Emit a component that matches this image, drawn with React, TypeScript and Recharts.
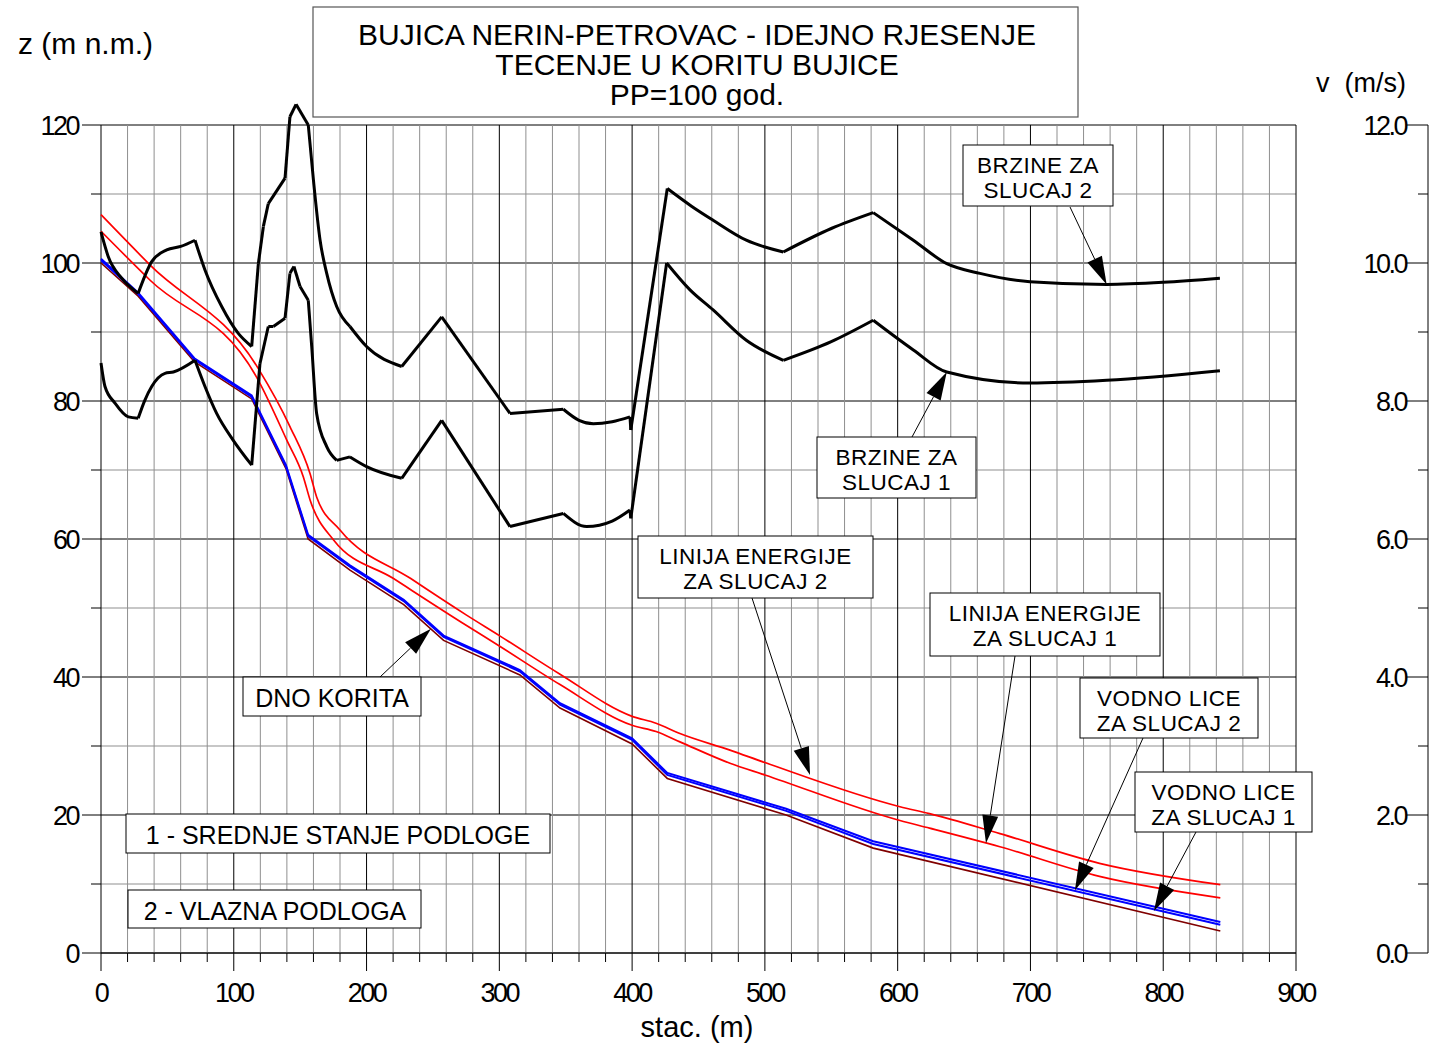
import React from "react";
import { Line, LineChart, ReferenceDot, ReferenceLine, XAxis, YAxis } from "recharts";

type Pt = [number, number];

// stacionaza (m) -> kota (m n.m.)
const dnoKorita: Pt[] = [
  [0, 100.0], [28, 95.2], [70.3, 85.7], [113.5, 80.3], [139.3, 70.2], [156, 60.0], [187.5, 55.5],
  [228, 50.5], [258, 45.3], [315.5, 40.3], [345.7, 35.5], [400, 30.3], [426.5, 25.3], [516, 20.0],
  [581.6, 15.2], [843, 3.2],
];

const vodnoLice1: Pt[] = [
  [0, 100.4], [28, 95.5], [70.3, 86.0], [113.5, 80.6], [139.3, 70.5], [156, 60.4], [187.5, 56.0],
  [228, 51.0], [258, 45.8], [315.5, 40.8], [345.7, 36.0], [400, 30.9], [426.5, 25.8], [516, 20.6],
  [581.6, 15.8], [843, 4.1],
];

const vodnoLice2: Pt[] = [
  [0, 100.6], [28, 95.7], [70.3, 86.2], [113.5, 80.8], [139.3, 70.7], [156, 60.6], [187.5, 56.2],
  [228, 51.2], [258, 46.0], [315.5, 41.0], [345.7, 36.2], [400, 31.1], [426.5, 26.1], [516, 20.9],
  [581.6, 16.2], [843, 4.5],
];

const energija1: Pt[] = [
  [0, 104.6], [37, 97.5], [118.5, 83.0], [140, 74.3], [152.4, 69.0], [157.4, 65.7], [175, 59.9],
  [220, 54.3], [275, 47.5], [300, 44.5], [345.7, 38.9], [400, 33.0], [418, 32.1], [436, 30.6],
  [473.7, 27.5], [500, 25.8], [601.7, 19.2], [624, 18.1], [677, 15.4], [752, 11.1], [843, 8.0],
];

const energija2: Pt[] = [
  [0, 107.0], [37, 99.7], [118.5, 84.7], [142.3, 76.3], [157.4, 69.5], [162.4, 66.1], [180, 61.3],
  [233, 54.3], [275, 49.0], [300, 46.0], [345.7, 40.4], [400, 34.3], [418, 33.3], [436, 31.8],
  [473.7, 29.4], [500, 27.6], [601.7, 21.2], [624, 20.2], [677, 17.3], [752, 13.0], [843, 9.9],
];

// stacionaza (m) -> brzina (m/s)
const brzine1: Pt[] = [
  [0, 8.55], [3, 8.21], [10.5, 7.97], [20.6, 7.77], [28, 7.75], [33, 8.01], [38.2, 8.21], [48.2, 8.4],
  [54.5, 8.42], [70.8, 8.59], [78.3, 8.21], [87.1, 7.82], [99.6, 7.43], [113.5, 7.07], [119.7, 8.54],
  [126, 9.08], [129.8, 9.08], [138.6, 9.2], [142.3, 9.85], [145.3, 9.95], [149.9, 9.66], [156.1, 9.46],
  [158.7, 8.79], [162.4, 7.82], [170, 7.34], [177.5, 7.14], [187.5, 7.19], [200, 7.05], [226.5, 6.88],
  [256.6, 7.72], [308, 6.18], [348.2, 6.37], [365.8, 6.18], [385, 6.26], [398.4, 6.42], [399, 6.3],
  [426, 10.0], [443.6, 9.61], [461, 9.32], [486, 8.88], [513.9, 8.59], [550, 8.86], [581.6, 9.17],
  [611.8, 8.74], [637, 8.42], [699.6, 8.26], [757.4, 8.3], [842.7, 8.44],
];
const brzine1Lomovi = [28, 70.8, 113.5, 119.7, 126, 129.8, 138.6, 142.3, 145.3, 149.9, 156.1, 177.5, 187.5, 226.5, 256.6, 308, 348.2, 398.4, 399, 426, 513.9, 581.6];

const brzine2: Pt[] = [
  [0, 10.45], [5.5, 10.09], [15.6, 9.78], [28, 9.56], [38.2, 10.02], [49.5, 10.19], [60, 10.24],
  [70.8, 10.33], [78.3, 9.9], [90.9, 9.37], [103.4, 8.98], [113.5, 8.79], [118.5, 9.99], [122.3, 10.53],
  [126, 10.86], [138.6, 11.23], [142.3, 12.12], [146.9, 12.3], [156.1, 12.0], [160, 11.2], [165, 10.33],
  [170, 9.85], [177.5, 9.37], [187.5, 9.08], [200, 8.79], [226.5, 8.5], [256.6, 9.22], [308, 7.82],
  [348.2, 7.88], [360, 7.72], [370.8, 7.67], [385, 7.7], [398.4, 7.77], [399, 7.58], [426.5, 11.08],
  [445, 10.82], [461, 10.62], [486, 10.33], [513.9, 10.16], [550, 10.5], [581.6, 10.73], [611.8, 10.33],
  [637, 9.99], [662, 9.85], [699.6, 9.73], [757.4, 9.69], [800, 9.72], [842.7, 9.78],
];
const brzine2Lomovi = [28, 70.8, 113.5, 118.5, 122.3, 126, 138.6, 142.3, 146.9, 156.1, 187.5, 226.5, 256.6, 308, 348.2, 398.4, 399, 426.5, 513.9, 581.6];

const xTicks = Array.from({ length: 46 }, (_, i) => i * 20);
const zTicks = Array.from({ length: 13 }, (_, i) => i * 10);
const vTicks = Array.from({ length: 13 }, (_, i) => i);
const Z_TOP = 120;
const Z_MAX = 124; // velocity peak rises above the frame
const PX_PER_Z = 6.9;

const titleLines = ["BUJICA NERIN-PETROVAC - IDEJNO RJESENJE", "TECENJE U KORITU BUJICE", "PP=100 god."];

type Note = { lines: string[]; m: number; y: number; axis: "z" | "v"; box: number[]; tail: number[] };

const notes: Note[] = [
  { lines: ["BRZINE ZA", "SLUCAJ 2"], m: 757.4, y: 9.69, axis: "v", box: [963, 145, 150, 61], tail: [1070, 207] },
  { lines: ["BRZINE ZA", "SLUCAJ 1"], m: 637, y: 8.42, axis: "v", box: [817, 437, 159, 61], tail: [912, 437] },
  { lines: ["LINIJA ENERGIJE", "ZA SLUCAJ 2"], m: 534, y: 25.8, axis: "z", box: [638, 536, 235, 62], tail: [752, 598] },
  { lines: ["LINIJA ENERGIJE", "ZA SLUCAJ 1"], m: 666.5, y: 15.9, axis: "z", box: [930, 593, 230, 63], tail: [1015, 656] },
  { lines: ["VODNO LICE", "ZA SLUCAJ 2"], m: 733.5, y: 9.1, axis: "z", box: [1080, 678, 178, 60], tail: [1143, 738] },
  { lines: ["VODNO LICE", "ZA SLUCAJ 1"], m: 793, y: 6.1, axis: "z", box: [1135, 772, 177, 60], tail: [1196, 832] },
  { lines: ["DNO KORITA"], m: 248.5, y: 47.0, axis: "z", box: [243, 677, 178, 39], tail: [380, 677] },
];

const FONT = "'Liberation Sans', Arial, Helvetica, sans-serif";
const toRows = (pts: Pt[], key: string) => pts.map(([m, v]) => ({ m, [key]: v }));

// break a curve at its sharp corners so each smooth piece can be drawn on its own
function splitAt(pts: Pt[], kinks: number[]) {
  const segs: Pt[][] = [];
  let cur: Pt[] = [];
  pts.forEach((p) => {
    cur.push(p);
    if (kinks.includes(p[0])) {
      if (cur.length > 1) segs.push(cur);
      cur = [p];
    }
  });
  if (cur.length > 1) segs.push(cur);
  return segs;
}

function XTick({ x, y, payload }: any) {
  const major = payload.value % 100 === 0;
  return (
    <g>
      <line x1={x} y1={y} x2={x} y2={y + (major ? 18 : 9)} stroke="#000" strokeWidth={1} />
      {major && (
        <text x={x} y={y + 49} textAnchor="middle" fontSize={27} fontFamily={FONT} letterSpacing={-2.5} fill="#000">
          {payload.value}
        </text>
      )}
    </g>
  );
}

function ZTick({ x, y, payload }: any) {
  const major = payload.value % 20 === 0;
  return (
    <g>
      <line x1={x - (major ? 19 : 10)} y1={y} x2={x} y2={y} stroke="#000" strokeWidth={1} />
      {major && (
        <text x={x - 23} y={y + 10} textAnchor="end" fontSize={27} fontFamily={FONT} letterSpacing={-2.5} fill="#000">
          {payload.value}
        </text>
      )}
    </g>
  );
}

function VTick({ x, y, payload }: any) {
  const major = payload.value % 2 === 0;
  const ax = x + 132;
  return (
    <g>
      <line x1={ax - (major ? 22 : 10)} y1={y} x2={ax} y2={y} stroke="#000" strokeWidth={1} />
      {major && (
        <text x={ax - 22} y={y + 10} textAnchor="end" fontSize={27} fontFamily={FONT} letterSpacing={-2.5} fill="#000">
          {payload.value.toFixed(1)}
        </text>
      )}
    </g>
  );
}

function Callout({ cx, cy, note }: any) {
  const [tx, ty] = note.tail;
  const [bx0, by0, bw, bh] = note.box;
  const dx = cx - tx;
  const dy = cy - ty;
  const len = Math.hypot(dx, dy) || 1;
  const ux = dx / len;
  const uy = dy / len;
  const hx = cx - ux * 28;
  const hy = cy - uy * 28;
  const nx = -uy * 8;
  const ny = ux * 8;
  const mid = bx0 + bw / 2;
  const twoLines = note.lines.length > 1;
  return (
    <g>
      <line x1={tx} y1={ty} x2={hx} y2={hy} stroke="#000" strokeWidth={1} />
      <polygon points={`${cx},${cy} ${hx + nx},${hy + ny} ${hx - nx},${hy - ny}`} fill="#000" />
      <rect x={bx0} y={by0} width={bw} height={bh} fill="#fff" stroke="#000" strokeWidth={1} />
      {note.lines.map((t: string, i: number) => (
        <text
          key={t}
          x={mid}
          y={by0 + (twoLines ? 27.5 + i * 25.5 : 30)}
          textAnchor="middle"
          fontSize={twoLines ? 22.5 : 25}
          letterSpacing={twoLines ? 0.5 : 0}
          fontFamily={FONT}
          fill="#000"
        >
          {t}
        </text>
      ))}
    </g>
  );
}

export default function App() {
  const plotBottom = 953;
  const top = plotBottom - Z_MAX * PX_PER_Z;
  const lineProps = { xAxisId: "x", dot: false, activeDot: false, isAnimationActive: false } as const;
  return (
    <div style={{ position: "absolute", left: 0, top: 0, width: 1432, height: 1048, background: "#fff" }}>
      <LineChart width={1432} height={1048} margin={{ top, right: 0, bottom: 0, left: 0 }}>
        <XAxis
          xAxisId="x"
          dataKey="m"
          type="number"
          domain={[0, 900]}
          ticks={xTicks}
          interval={0}
          height={1048 - plotBottom}
          tickSize={0}
          tickMargin={0}
          tick={<XTick />}
          axisLine={{ stroke: "#000" }}
        />
        <YAxis
          yAxisId="z"
          orientation="left"
          type="number"
          domain={[0, Z_MAX]}
          allowDataOverflow
          ticks={zTicks}
          interval={0}
          width={101}
          tickSize={0}
          tickMargin={0}
          tick={<ZTick />}
          axisLine={false}
        />
        <YAxis
          yAxisId="v"
          orientation="right"
          type="number"
          domain={[0, Z_MAX / 10]}
          allowDataOverflow
          ticks={vTicks}
          interval={0}
          width={136}
          tickSize={0}
          tickMargin={0}
          tick={<VTick />}
          axisLine={false}
        />
        {zTicks.map((v) => (
          <ReferenceLine
            key={`z${v}`}
            xAxisId="x"
            yAxisId="z"
            y={v}
            stroke={v % 20 === 0 ? "#000" : "#8f8f8f"}
            strokeWidth={1}
          />
        ))}
        {xTicks.map((v) => (
          <ReferenceLine
            key={`x${v}`}
            xAxisId="x"
            yAxisId="z"
            segment={[{ x: v, y: 0 }, { x: v, y: Z_TOP }]}
            stroke={v % 100 === 0 ? "#000" : "#8f8f8f"}
            strokeWidth={1}
          />
        ))}
        <Line {...lineProps} yAxisId="z" data={toRows(dnoKorita, "z")} dataKey="z" type="linear" stroke="#800000" strokeWidth={1.6} />
        <Line {...lineProps} yAxisId="z" data={toRows(vodnoLice1, "z")} dataKey="z" type="linear" stroke="#0000ff" strokeWidth={2} />
        <Line {...lineProps} yAxisId="z" data={toRows(vodnoLice2, "z")} dataKey="z" type="linear" stroke="#0000ff" strokeWidth={2} />
        <Line {...lineProps} yAxisId="z" data={toRows(energija1, "z")} dataKey="z" type="monotone" stroke="#ff0000" strokeWidth={1.7} />
        <Line {...lineProps} yAxisId="z" data={toRows(energija2, "z")} dataKey="z" type="monotone" stroke="#ff0000" strokeWidth={1.7} />
        {splitAt(brzine1, brzine1Lomovi).map((seg, i) => (
          <Line key={`b1-${i}`} {...lineProps} yAxisId="v" data={toRows(seg, "v")} dataKey="v" type="monotone" stroke="#000" strokeWidth={3} />
        ))}
        {splitAt(brzine2, brzine2Lomovi).map((seg, i) => (
          <Line key={`b2-${i}`} {...lineProps} yAxisId="v" data={toRows(seg, "v")} dataKey="v" type="monotone" stroke="#000" strokeWidth={3} />
        ))}
        {notes.map((n) => (
          <ReferenceDot
            key={n.lines.join(" ")}
            xAxisId="x"
            yAxisId={n.axis}
            x={n.m}
            y={n.y}
            r={0}
            ifOverflow="visible"
            shape={(p: any) => <Callout cx={p.cx} cy={p.cy} note={n} />}
          />
        ))}
      </LineChart>
      <svg width={1432} height={1048} style={{ position: "absolute", left: 0, top: 0, pointerEvents: "none" }}>
        <rect x={313} y={7} width={765} height={110} fill="#fff" stroke="#555" strokeWidth={1.2} />
        {titleLines.map((t, i) => (
          <text key={t} x={697} y={45 + i * 30} textAnchor="middle" fontSize={30} fontFamily={FONT} fill="#000">
            {t}
          </text>
        ))}
        <text x={18} y={54} fontSize={30} fontFamily={FONT} fill="#000">z (m n.m.)</text>
        <text x={1406} y={92} textAnchor="end" fontSize={27} fontFamily={FONT} fill="#000" style={{ whiteSpace: "pre" }}>
          v  (m/s)
        </text>
        <text x={697} y={1037} textAnchor="middle" fontSize={29} fontFamily={FONT} fill="#000">stac. (m)</text>
        <line x1={1428} y1={125} x2={1428} y2={953} stroke="#000" strokeWidth={1} />
        <rect x={126} y={814} width={424} height={39} fill="#fff" stroke="#000" strokeWidth={1} />
        <text x={338} y={844} textAnchor="middle" fontSize={25} fontFamily={FONT} fill="#000">1 - SREDNJE STANJE PODLOGE</text>
        <rect x={128} y={890} width={293} height={38} fill="#fff" stroke="#000" strokeWidth={1} />
        <text x={275} y={920} textAnchor="middle" fontSize={25} fontFamily={FONT} fill="#000">2 - VLAZNA PODLOGA</text>
      </svg>
    </div>
  );
}
